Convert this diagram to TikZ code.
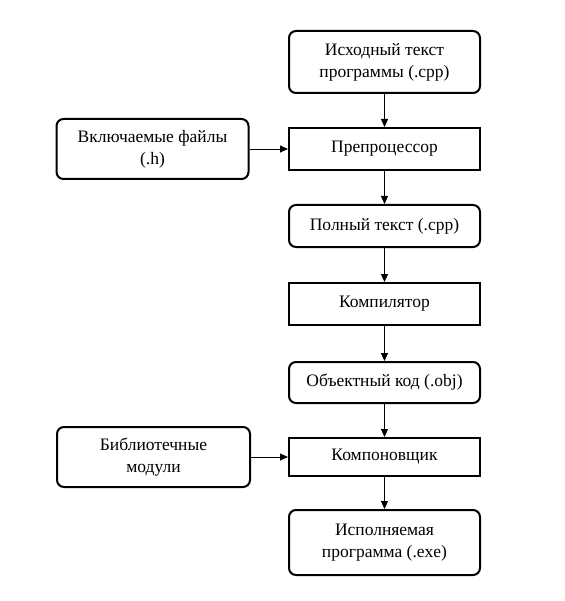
\documentclass[tikz,border=0pt]{standalone}
\usepackage{fontspec}
\setmainfont{Liberation Serif}
\usetikzlibrary{arrows.meta}
\tikzset{
  base/.style={draw, line width=2pt, align=center, font=\fontsize{17.5}{22}\selectfont, inner sep=2pt},
  rbox/.style={base, rounded corners=7pt},
  sbox/.style={base},
  conn/.style={line width=0.9pt, -{Triangle[length=8pt,width=7pt]}}
}
\begin{document}
\begin{tikzpicture}[x=1pt,y=-1pt]
\useasboundingbox (0,0) rectangle (564,601);
\node[rbox, minimum width=191pt, minimum height=62pt] (src) at (384.5,62) {Исходный текст\\программы (.cpp)};
\node[sbox, minimum width=191pt, minimum height=42pt] (pre) at (384.5,149) {Препроцессор};
\node[rbox, minimum width=192pt, minimum height=60pt] (inc) at (152.5,149) {Включаемые файлы\\(.h)};
\node[rbox, minimum width=191pt, minimum height=42pt] (full) at (384.5,226) {Полный текст (.cpp)};
\node[sbox, minimum width=191pt, minimum height=42pt] (comp) at (384.5,304) {Компилятор};
\node[rbox, minimum width=191pt, minimum height=41pt] (obj) at (384.5,382.5) {Объектный код (.obj)};
\node[sbox, minimum width=191pt, minimum height=38pt] (link) at (384.5,457) {Компоновщик};
\node[rbox, minimum width=193pt, minimum height=60pt] (lib) at (153.5,457) {Библиотечные\\модули};
\node[rbox, minimum width=191pt, minimum height=65pt] (exe) at (384.5,542.5) {Исполняемая\\программа (.exe)};
\draw[conn] (src) -- (pre);
\draw[conn] (inc) -- (pre);
\draw[conn] (pre) -- (full);
\draw[conn] (full) -- (comp);
\draw[conn] (comp) -- (obj);
\draw[conn] (obj) -- (link);
\draw[conn] (lib) -- (link);
\draw[conn] (link) -- (exe);
\end{tikzpicture}
\end{document}
